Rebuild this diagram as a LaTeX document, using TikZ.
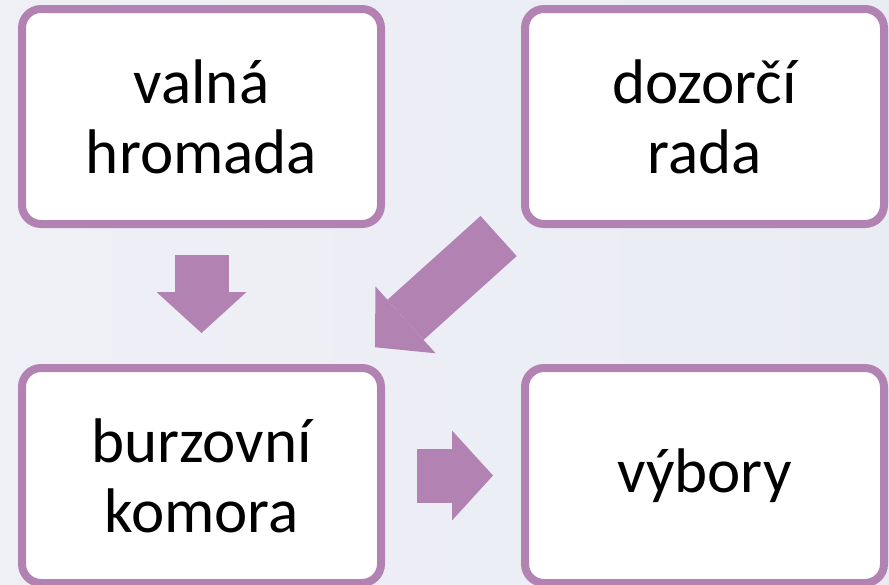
\documentclass[tikz,border=0pt]{standalone}
\usepackage{fontspec}
\setmainfont{Carlito}
\usetikzlibrary{positioning, arrows.meta}

\definecolor{boxpurple}{RGB}{178,130,178}
\definecolor{bgleft}{RGB}{239,240,246}
\definecolor{bgright}{RGB}{234,236,244}

\begin{document}
\begin{tikzpicture}[
    x=1pt, y=-1pt,
    node distance=144pt,
    block/.style={rectangle, draw=boxpurple, line width=8pt, fill=white, rounded corners=19pt, minimum width=359pt, minimum height=215pt, outer sep=0pt, align=center, font=\fontsize{63pt}{70pt}\selectfont},
    bigarrow/.style={draw=boxpurple, line width=54pt, -{Triangle[length=41pt, width=90pt, line width=0pt]}},
]

% Background
\fill [left color=bgleft, right color=bgright] (0,0) rectangle (889,584);
\useasboundingbox (0,0) rectangle (889,584);

% Nodes
\node [block] (valna) at (201.5,116.5) {valná\\hromada};
\node [block, right=of valna] (dozorci) {dozorčí\\rada};
\node [block, below=of valna] (burza) {burzovní\\komora};
\node [block, right=of burza] (vybory) {výbory};

% Lines
\draw [bigarrow, shorten <=31pt, shorten >=35pt] (valna.south) -- (burza.north);
\draw [bigarrow, shorten <=18pt, shorten >=31pt] ([xshift=-13pt]dozorci.south west) -- ([xshift=-29pt]burza.north east);
\draw [bigarrow, shorten <=36pt, shorten >=32pt] (burza.east) -- (vybory.west);

\end{tikzpicture}
\end{document}
